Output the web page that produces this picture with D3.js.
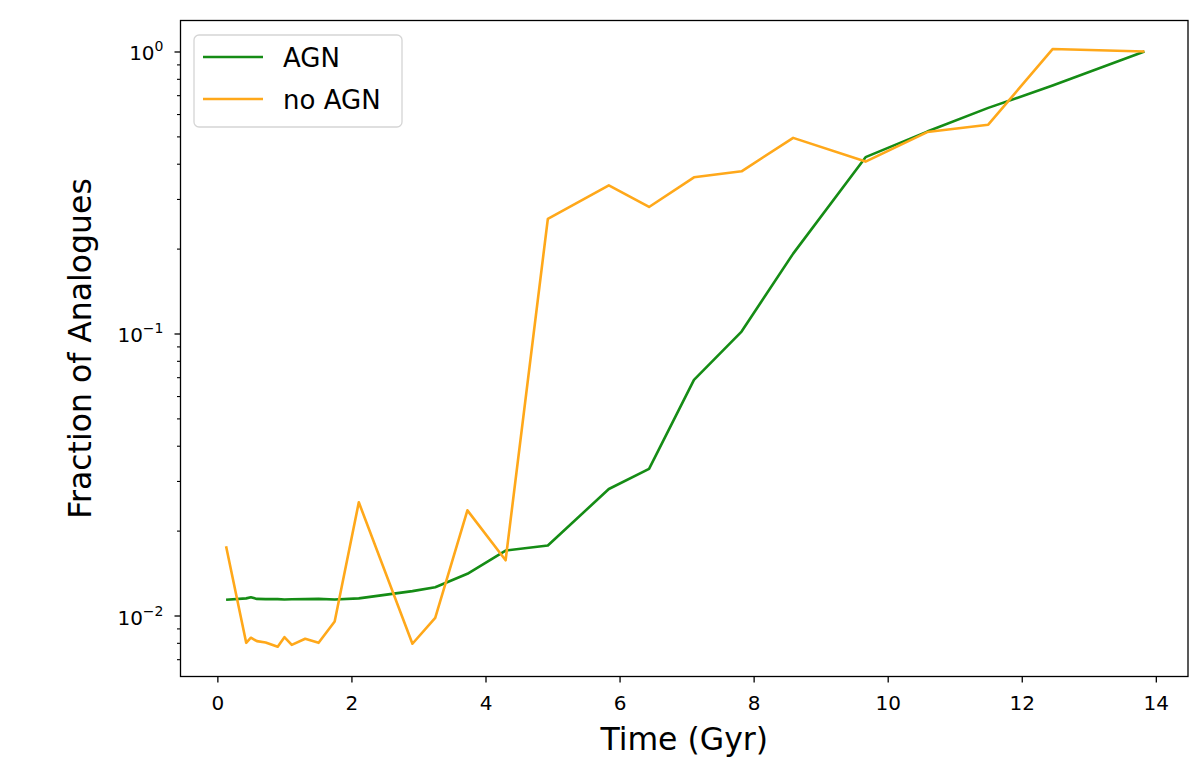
<!DOCTYPE html>
<html><head><meta charset="utf-8">
<script src="https://cdn.jsdelivr.net/npm/d3@7"></script>
<style>body{margin:0;background:#fff}svg{display:block}text{font-family:"DejaVu Sans",sans-serif;fill:#000}</style>
</head><body>
<script>
const time = [0.13,0.43,0.50,0.59,0.72,0.90,1.00,1.11,1.31,1.51,1.75,2.11,2.91,3.25,3.73,4.30,4.93,5.84,6.44,7.11,7.82,8.59,9.67,10.59,11.50,12.46,13.83];
const agn = [0.01137,0.0115,0.0116,0.01145,0.01143,0.01143,0.0114,0.01142,0.01143,0.01145,0.0114,0.0115,0.0122,0.0126,0.01406,0.0170,0.0177,0.0281,0.0331,0.0685,0.1016,0.192,0.422,0.52,0.631,0.757,1.0];
const noAgn = [0.0176,0.0080,0.00834,0.00811,0.00802,0.00775,0.00838,0.00787,0.00827,0.0080,0.00952,0.0252,0.00794,0.00981,0.0236,0.0157,0.255,0.335,0.281,0.358,0.376,0.494,0.407,0.518,0.550,1.02,1.0];
const xTicks = [0,2,4,6,8,10,12,14];
const yTicks = [0.01,0.1,1];
const seriesNames = ["AGN","no AGN"];
const seriesColors = ["#158c15","#ffa81a"];

const W=1191,H=758;
const L=180.5,R=1188,T=20.5,B=676.5;
const svg=d3.select("body").append("svg").attr("width",W).attr("height",H);
const x=d3.scaleLinear().domain([-0.55,14.48]).range([L,R]);
const y=d3.scaleLog().domain([Math.pow(10,-2.2163),Math.pow(10,0.1099)]).range([B,T]);

const g=svg.append("g");
const line=d3.line().x(d=>x(d[0])).y(d=>y(d[1]));
svg.append("clipPath").attr("id","c").append("rect").attr("x",L).attr("y",T).attr("width",R-L).attr("height",B-T);
const data=[agn,noAgn];
data.forEach((s,i)=>{
  g.append("path").attr("clip-path","url(#c)").datum(time.map((t,j)=>[t,s[j]]))
   .attr("d",line).attr("fill","none").attr("stroke",seriesColors[i]).attr("stroke-width",2.6)
   .attr("stroke-linejoin","round").attr("stroke-linecap","butt");
});

// frame
svg.append("rect").attr("x",L).attr("y",T).attr("width",R-L).attr("height",B-T)
  .attr("fill","none").attr("stroke","#000").attr("stroke-width",1.3);

// x axis
const xa=svg.append("g").attr("transform",`translate(0,${B})`)
  .call(d3.axisBottom(x).tickValues(xTicks).tickSize(6).tickFormat(d3.format("d")));
xa.select(".domain").remove();
xa.selectAll("text").attr("font-size",20).attr("font-family","DejaVu Sans").attr("dy",null).attr("y",33);
xa.selectAll("line").attr("stroke-width",1.3);

// y axis
const ya=svg.append("g").attr("transform",`translate(${L},0)`);
const minor=[];
for(let e=-3;e<=0;e++){for(let m=2;m<=9;m++){const v=m*Math.pow(10,e);if(v>=y.domain()[0]&&v<=y.domain()[1])minor.push(v);}}
ya.call(d3.axisLeft(y).tickValues(minor).tickSize(3.5).tickFormat(""));
ya.select(".domain").remove();
const ym=svg.append("g").attr("transform",`translate(${L},0)`);
ym.call(d3.axisLeft(y).tickValues(yTicks).tickSize(6).tickFormat(""));
ym.select(".domain").remove();
ya.selectAll("line").attr("stroke-width",1.1); ym.selectAll("line").attr("stroke-width",1.3);
yTicks.forEach(v=>{
  const e=Math.round(Math.log10(v));
  const t=svg.append("text").attr("x",L-17).attr("y",y(v)+9).attr("text-anchor","end").attr("font-size",20);
  t.append("tspan").text("10");
  t.append("tspan").attr("dy",-9).attr("font-size",14).text(e===0?"0":"\u2212"+(-e));
});

// labels
svg.append("text").attr("x",(L+R)/2).attr("y",750).attr("text-anchor","middle").attr("font-size",31.5).text("Time (Gyr)");
svg.append("text").attr("transform",`translate(91,${(T+B)/2}) rotate(-90)`).attr("text-anchor","middle").attr("font-size",31.5).text("Fraction of Analogues");

// legend
const lg=svg.append("g");
lg.append("rect").attr("x",194).attr("y",35).attr("width",208).attr("height",92).attr("rx",5)
  .attr("fill","#fff").attr("fill-opacity",0.8).attr("stroke","#d5d5d5").attr("stroke-width",1.3);
seriesNames.forEach((n,i)=>{
  const yy=57+i*42;
  lg.append("line").attr("x1",203).attr("x2",263).attr("y1",yy).attr("y2",yy).attr("stroke",seriesColors[i]).attr("stroke-width",2.6);
  lg.append("text").attr("x",283).attr("y",yy+9.5).attr("font-size",26).text(n);
});
</script>
</body></html>
